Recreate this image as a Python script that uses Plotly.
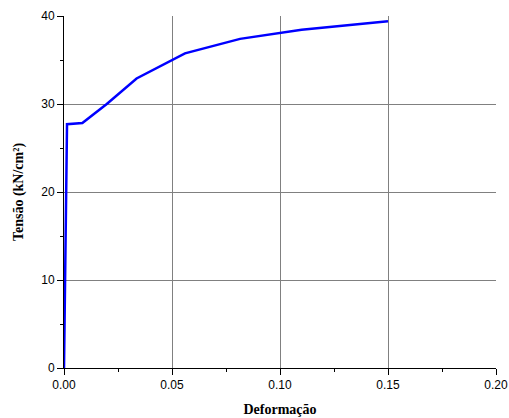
import plotly.graph_objects as go

strain = [0.0, 0.0006, 0.0014, 0.0085, 0.0198, 0.0336, 0.0560, 0.0815, 0.1100, 0.1500]
stress = [0.0, 14.0, 27.7, 27.85, 30.0, 32.9, 35.75, 37.4, 38.45, 39.4]

x_range = [0, 0.20]
y_range = [0, 40]
x_ticks = [0.00, 0.05, 0.10, 0.15, 0.20]
x_tick_labels = ["0.00", "0.05", "0.10", "0.15", "0.20"]
x_grid = [0.05, 0.10, 0.15]
y_grid = [10, 20, 30]

fig = go.Figure()
fig.add_trace(go.Scatter(x=strain, y=stress, mode="lines",
                         line=dict(color="#0000FF", width=2.5), showlegend=False,
                         xaxis="x", yaxis="y"))
# invisible trace to anchor the grid-only overlay axes
fig.add_trace(go.Scatter(x=strain, y=stress, mode="lines", line=dict(width=0),
                         opacity=0, showlegend=False, hoverinfo="skip",
                         xaxis="x2", yaxis="y2"))

tickfont = dict(family="Liberation Sans, Arial, sans-serif", size=12, color="black")
titlefont = dict(family="Liberation Serif, Times New Roman, serif", size=14, color="black")

fig.update_layout(
    width=509, height=418,
    margin=dict(l=64, r=13, t=16, b=50, autoexpand=False),
    paper_bgcolor="white", plot_bgcolor="white",
    hovermode=False,
    xaxis=dict(
        range=x_range, tickmode="array", tickvals=x_ticks, ticktext=x_tick_labels,
        showline=True, linecolor="black", linewidth=1,
        ticks="outside", ticklen=6, tickcolor="black",
        minor=dict(ticks="outside", ticklen=3, tickmode="linear", dtick=0.025, tick0=0,
                   tickcolor="black", showgrid=False),
        showgrid=False, zeroline=False, tickfont=tickfont, automargin=False,
        ticklabeloverflow="allow",
        title=dict(text="<b>Deformação</b>", font=titlefont, standoff=12),
    ),
    yaxis=dict(
        range=y_range, tick0=0, dtick=10,
        showline=True, linecolor="black", linewidth=1,
        ticks="outside", ticklen=6, tickcolor="black",
        minor=dict(ticks="outside", ticklen=3, dtick=5, tick0=0, tickcolor="black", showgrid=False),
        showgrid=False, zeroline=False, tickfont=tickfont, automargin=False,
        ticklabeloverflow="allow",
        title=dict(text="<b>Tensão (kN/cm²)</b>", font=titlefont, standoff=14),
    ),
    xaxis2=dict(
        range=x_range, overlaying="x", tickmode="array", tickvals=x_grid,
        showticklabels=False, ticks="", showline=False, zeroline=False,
        showgrid=True, gridcolor="#808080", gridwidth=1, automargin=False,
        layer="below traces",
    ),
    yaxis2=dict(
        range=y_range, overlaying="y", tickmode="array", tickvals=y_grid,
        showticklabels=False, ticks="", showline=False, zeroline=False,
        showgrid=True, gridcolor="#808080", gridwidth=1, automargin=False,
        layer="below traces",
    ),
)

fig.write_html(
    "out.html",
    config={"displayModeBar": False, "staticPlot": True},
    post_script="document.body.style.margin='0';document.body.style.overflow='hidden';",
)
